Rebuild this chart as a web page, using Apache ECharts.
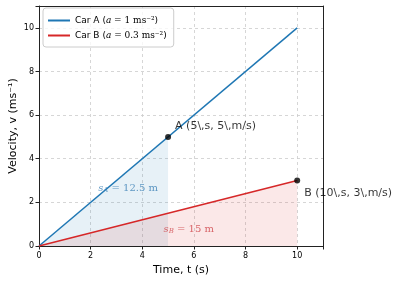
<!DOCTYPE html>
<html><head><meta charset="utf-8">
<script src="https://cdn.jsdelivr.net/npm/echarts@6/dist/echarts.min.js"></script>
<style>html,body{margin:0;padding:0;background:#fff}#c{width:400px;height:281px}</style>
</head><body><div id="c"></div>
<script>
var carA = [[0,0],[10,10]];
var carAFill = [[0,0],[5,5]];
var carB = [[0,0],[10,3]];
var points = [[5,5,'A (5\\,s, 5\\,m/s)'],[10,3,'B (10\\,s, 3\\,m/s)']];
var areaLabels = [[3.45,2.65,'A','12.5'],[5.8,0.78,'B','15']];
var ticks = [0,2,4,6,8,10];
var blue = '#1f77b4', red = '#d62728';
var chart = echarts.init(document.getElementById('c'));
function tickFmt(v){return ticks.indexOf(v)>=0?String(v):'';}
var grid = {color:'#ccc',type:[3,3],width:0.8};
var spine = {color:'#222',width:1};
chart.setOption({
  animation:false,
  grid:{left:39,right:77,top:6,bottom:35,outerBoundsMode:'none',containLabel:false},
  legend:{
    data:['Car A','Car B'], left:43, top:8, orient:'vertical', itemGap:6,
    itemWidth:22, itemHeight:2, icon:'rect',
    borderColor:'#ccc', borderWidth:1, borderRadius:3, padding:[8,7,7,5],
    backgroundColor:'rgba(255,255,255,0.8)',
    textStyle:{fontFamily:'DejaVu Sans',fontSize:9,color:'#000',
      rich:{i:{fontFamily:'DejaVu Serif',fontStyle:'italic',fontSize:9},
            s:{fontFamily:'DejaVu Serif',fontSize:9},
            n:{fontFamily:'DejaVu Sans',fontSize:9}}},
    formatter:function(n){
      var a = n==='Car A' ? '1' : '0.3';
      return '{n|'+n+' (}{i|a}{s| = '+a+' ms⁻²}{n|)}';
    }
  },
  xAxis:[{type:'value',min:0,max:11,interval:2,
    name:'Time, t (s)',nameLocation:'middle',nameGap:18,
    nameTextStyle:{fontFamily:'DejaVu Sans',fontSize:11,color:'#000'},
    axisLine:{show:true,onZero:false,lineStyle:spine},
    axisTick:{show:true,length:3.5,lineStyle:spine},
    axisLabel:{fontFamily:'DejaVu Sans',fontSize:8,color:'#000',margin:6,formatter:tickFmt},
    splitLine:{show:true,lineStyle:grid}},
   {type:'value',position:'top',min:0,max:11,
    axisLine:{show:true,onZero:false,lineStyle:spine},axisTick:{show:false},axisLabel:{show:false},splitLine:{show:false}}],
  yAxis:[{type:'value',min:0,max:11,interval:2,
    name:'Velocity, v (ms⁻¹)',nameLocation:'middle',nameGap:20,nameMoveOverlap:false,
    nameTextStyle:{fontFamily:'DejaVu Sans',fontSize:11,color:'#000'},
    axisLine:{show:true,onZero:false,lineStyle:spine},
    axisTick:{show:true,length:3.5,lineStyle:spine},
    axisLabel:{fontFamily:'DejaVu Sans',fontSize:8,color:'#000',margin:5,formatter:tickFmt},
    splitLine:{show:true,lineStyle:grid}},
   {type:'value',position:'right',min:0,max:11,
    axisLine:{show:true,onZero:false,lineStyle:spine},axisTick:{show:false},axisLabel:{show:false},splitLine:{show:false}}],
  series:[
    {name:'fillA',type:'line',data:carAFill,symbol:'none',lineStyle:{width:0},
     areaStyle:{color:'rgba(31,119,180,0.15)',origin:'start'},silent:true,z:1},
    {name:'fillB',type:'line',data:carB,symbol:'none',lineStyle:{width:0},
     areaStyle:{color:'rgba(214,39,40,0.15)',origin:'start'},silent:true,z:1},
    {name:'Car A',type:'line',data:carA,symbol:'none',color:blue,lineStyle:{width:1.5,color:blue},z:3},
    {name:'Car B',type:'line',data:carB,symbol:'none',color:red,lineStyle:{width:1.5,color:red},z:3},
    {name:'pts',type:'scatter',data:points,symbolSize:6,itemStyle:{color:'#000'},z:5,
     label:{show:true,position:'right',distance:4,fontFamily:'DejaVu Sans',fontSize:11,color:'#000',
       formatter:function(p){return p.value[2];}},
     labelLayout:function(p){return {dy: p.dataIndex===0 ? -11 : 13};}},
    {name:'areaTxt',type:'scatter',symbolSize:0,z:4,itemStyle:{color:'transparent'},
     data:areaLabels.map(function(d,i){
       var c = i===0?'#3a7fb5':'#d0454a';
       return {value:d,label:{show:true,position:'inside',
         formatter:function(p){return '{i|s}{sub|'+p.value[2]+'}{t| = '+p.value[3]+' m}';},
         rich:{
           i:{fontFamily:'DejaVu Serif',fontStyle:'italic',fontSize:10,color:c},
           sub:{fontFamily:'DejaVu Serif',fontStyle:'italic',fontSize:7,color:c,verticalAlign:'bottom',padding:[5,0,0,0]},
           t:{fontFamily:'DejaVu Serif',fontSize:10,color:c}
         }}};
     })}
  ]
});
</script></body></html>
